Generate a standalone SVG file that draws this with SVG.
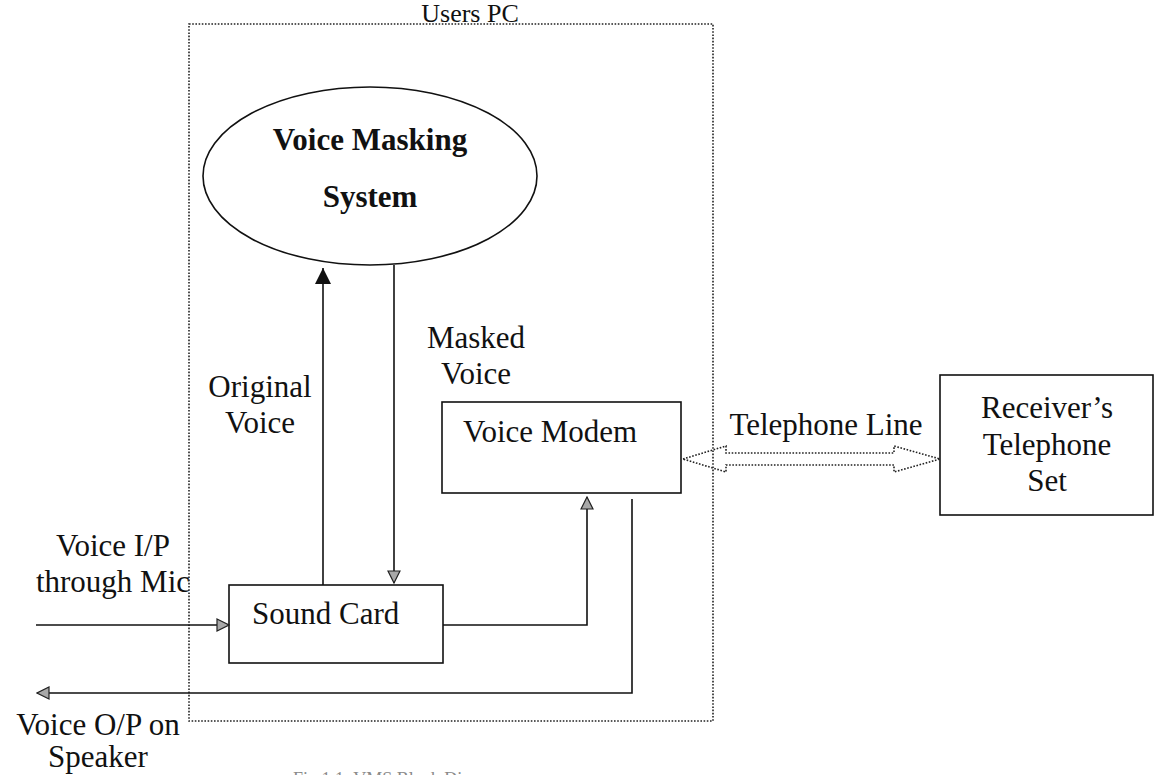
<svg xmlns="http://www.w3.org/2000/svg" width="1157" height="775" viewBox="0 0 1157 775">
  <style>
    .lbl { font-family: "Liberation Serif", "Times New Roman", serif; font-size: 31px; fill: #111; }
    .bold { font-weight: bold; }
    .box { fill: none; stroke: #111; stroke-width: 1.6; }
    .ln { fill: none; stroke: #111; stroke-width: 1.6; }
    .dot { fill: none; stroke: #222; stroke-width: 1.6; stroke-dasharray: 1.6 1.6; }
    .cap { font-family: "Liberation Serif", "Times New Roman", serif; font-size: 18px; fill: #8a8a8a; }
  </style>
  <defs>
    <marker id="solid" markerUnits="userSpaceOnUse" viewBox="0 0 16 16" markerWidth="16" markerHeight="16" refX="16" refY="8" orient="auto">
      <path d="M0,0 L16,8 L0,16 z" fill="#111"/>
    </marker>
    <marker id="hatch" markerUnits="userSpaceOnUse" viewBox="0 0 14 14" markerWidth="14" markerHeight="14" refX="13" refY="7" orient="auto">
      <path d="M1,1 L13,7 L1,13 z" fill="#a8a8a8" stroke="#222" stroke-width="1.2"/>
    </marker>
  </defs>

  <!-- computer boundary -->
  <g id="users-pc">
    <rect class="dot" x="189" y="24" width="524" height="697"/>
    <text class="lbl" x="470" y="22" text-anchor="middle" style="font-size:26px">Users PC</text>
  </g>

  <g id="voice-masking-system">
    <ellipse class="box" cx="370" cy="176" rx="167" ry="89"/>
    <text class="lbl bold" x="370" y="150" text-anchor="middle">Voice Masking</text>
    <text class="lbl bold" x="370" y="207" text-anchor="middle">System</text>
  </g>

  <g id="sound-card">
    <rect class="box" x="229" y="585" width="214" height="78"/>
    <text class="lbl" x="252" y="624">Sound Card</text>
  </g>

  <g id="voice-modem">
    <rect class="box" x="442" y="402" width="239" height="91"/>
    <text class="lbl" x="463" y="442">Voice Modem</text>
  </g>

  <g id="receiver-telephone">
    <rect class="box" x="940" y="375" width="213" height="140"/>
    <text class="lbl" x="1047" y="418" text-anchor="middle">Receiver’s</text>
    <text class="lbl" x="1047" y="455" text-anchor="middle">Telephone</text>
    <text class="lbl" x="1047" y="491" text-anchor="middle">Set</text>
  </g>

  <g id="connectors">
    <!-- sound card up to the masking system -->
    <path class="ln" d="M323,585 V268" marker-end="url(#solid)"/>
    <!-- masking system back down to the sound card -->
    <path class="ln" d="M394,265 V583" marker-end="url(#hatch)"/>
    <!-- microphone input -->
    <path class="ln" d="M36,625 H229" marker-end="url(#hatch)"/>
    <!-- sound card to modem -->
    <path class="ln" d="M443,625 H587 V497" marker-end="url(#hatch)"/>
    <!-- modem to speaker output -->
    <path class="ln" d="M632,499 V693 H37" marker-end="url(#hatch)"/>
    <!-- telephone line, two-way block arrow -->
    <polygon class="dot" points="683,459 726,446 726,453 894,453 894,446 940,459 894,472 894,465 726,465 726,472"/>
  </g>

  <g id="labels">
    <text class="lbl" x="260" y="397" text-anchor="middle">Original</text>
    <text class="lbl" x="260" y="433" text-anchor="middle">Voice</text>
    <text class="lbl" x="476" y="348" text-anchor="middle">Masked</text>
    <text class="lbl" x="476" y="384" text-anchor="middle">Voice</text>
    <text class="lbl" x="826" y="435" text-anchor="middle">Telephone Line</text>
    <text class="lbl" x="113" y="556" text-anchor="middle">Voice I/P</text>
    <text class="lbl" x="113" y="592" text-anchor="middle">through Mic</text>
    <text class="lbl" x="98" y="735" text-anchor="middle">Voice O/P on</text>
    <text class="lbl" x="98" y="767" text-anchor="middle">Speaker</text>
    <text class="cap" x="293" y="785">Fig 1.1: VMS Block Diagram</text>
  </g>
</svg>
